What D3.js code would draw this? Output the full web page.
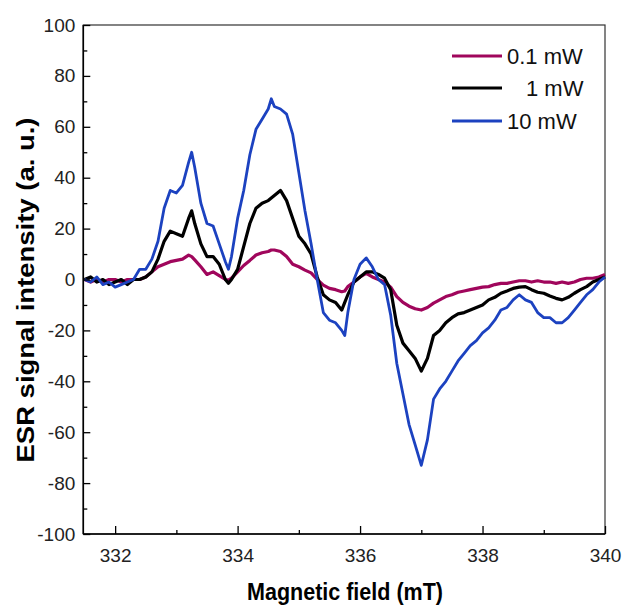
<!DOCTYPE html>
<html>
<head>
<meta charset="utf-8">
<script src="https://cdn.jsdelivr.net/npm/d3@7"></script>
<style>
  body { margin: 0; background: #fff; }
  svg { display: block; font-family: "Liberation Sans", Arial, sans-serif; }
  .axis path { display: none; }
  .axis line { stroke: #000; stroke-width: 1.3; }
  .axis text { font-size: 19px; fill: #222; font-family: "Liberation Sans", Arial, sans-serif; }
</style>
</head>
<body>
<svg id="chart" width="622" height="610"></svg>
<script>
// magnetic field (mT)
const field = [
  331.5, 331.6, 331.7, 331.8, 331.9,
  332.0, 332.1, 332.2, 332.3, 332.4, 332.5, 332.6, 332.7, 332.8, 332.9,
  333.0, 333.1, 333.2, 333.25, 333.3, 333.4, 333.5, 333.6, 333.7, 333.8, 333.85, 333.9,
  334.0, 334.1, 334.2, 334.3, 334.4, 334.5, 334.55, 334.6, 334.7, 334.8, 334.9,
  335.0, 335.1, 335.2, 335.3, 335.4, 335.5, 335.6, 335.7, 335.75, 335.8, 335.9,
  336.0, 336.1, 336.2, 336.3, 336.4, 336.5, 336.6, 336.7, 336.8, 336.9,
  337.0, 337.1, 337.2, 337.3, 337.4, 337.5, 337.6, 337.7, 337.8, 337.9,
  338.0, 338.1, 338.2, 338.3, 338.4, 338.5, 338.6, 338.7, 338.8, 338.9,
  339.0, 339.1, 339.2, 339.3, 339.4, 339.5, 339.6, 339.7, 339.8, 339.9,
  340.0
];

// ESR signal intensity (a. u.)
const mw01 = [
  0, -1, 0, -1, 0,
  0, -1, 0, 0, 0, 1, 3, 5, 6, 7,
  7.5, 8, 9.6, 9, 7.7, 5, 2, 3, 1.5, 0, -0.2, 0.5,
  3, 5.5, 7.5, 9.6, 10.5, 11, 11.6, 11.6, 11, 9, 6,
  5, 3.7, 2.6, 0, -2.2, -3.5, -4, -4.8, -4.5, -2.8, -1,
  1, 2.4, 1, 0, -1, -3, -6.7, -9, -10.5, -11.5,
  -12, -11, -9.3, -8, -6.7, -6, -5, -4.5, -4, -3.5,
  -3, -2.8, -2, -1.5, -1.5, -1, -0.5, -0.5, -1, -0.5,
  -1, -1, -1.5, -1, -1.5, -1, 0, 0.5, 0.5, 1,
  2
];
const mw1 = [
  0, 1, -1, 0, -2,
  -1, 0, -2, 0, 0, 1, 3, 8, 15, 19,
  18, 17, 24, 27, 22, 14, 9, 9, 6, 0, -1.5, 0,
  4, 13, 22, 28, 30, 31, 32, 33, 35, 31, 24,
  17, 14, 10, 1, -6, -8, -9, -12, -9, -6, -1,
  1, 3, 3, 2, 0.5, -4, -18, -25, -28, -31,
  -36, -31, -22, -20, -17, -15, -13.5, -13, -12, -11,
  -10, -8, -7, -5.4, -4.5, -3.5, -3, -2.8, -4, -5,
  -5.4, -6.5, -7.4, -8, -7, -5.4, -4, -2.8, -1, 0,
  1
];
const mw10 = [
  0, -1, 1, -2, -1,
  -3, -2, -1, 0, 4, 4, 8, 15, 28, 35,
  34, 37, 46, 50, 44, 30, 22, 21, 14, 7, 4, 9,
  24, 35, 49, 59, 63, 67, 71, 68, 67, 65, 57,
  42, 27, 14, 0, -13, -16, -17, -20, -22, -13, 0,
  6, 8.5, 5, 0, -2, -14, -33, -45, -57, -65,
  -73, -63, -47, -43, -40, -36, -32, -29, -26, -24,
  -21, -19, -16, -12, -11, -8, -6, -8, -9, -13,
  -15, -15, -17, -17, -15, -12, -9, -6, -4, -1,
  1
];

const seriesNames = ['0.1 mW', '1 mW', '10 mW'];
const seriesColors = ['#a0065c', '#000000', '#1c42c0'];
const xMajor = [332, 334, 336, 338, 340];
const xMinor = [333, 335, 337, 339];
const yMajor = [-100, -80, -60, -40, -20, 0, 20, 40, 60, 80, 100];
const yMinor = [-90, -70, -50, -30, -10, 10, 30, 50, 70, 90];

const svg = d3.select('#chart');
const plotLeft = 83.3, plotRight = 605, plotTop = 25, plotBottom = 534;

const x = d3.scaleLinear().domain([331.48, 340]).range([plotLeft, plotRight]);
const y = d3.scaleLinear().domain([-100, 100]).range([plotBottom, plotTop]);

svg.append('rect').attr('width', 622).attr('height', 610).attr('fill', '#fff');

// frame
svg.append('rect')
  .attr('x', plotLeft).attr('y', plotTop)
  .attr('width', plotRight - plotLeft).attr('height', plotBottom - plotTop)
  .attr('fill', 'none').attr('stroke', '#333').attr('stroke-width', 1.2);

// curves
const line = d3.line().x((d, i) => x(field[i])).y(d => y(d));
const series = [mw01, mw1, mw10];
series.forEach((vals, k) => {
  svg.append('path')
    .datum(vals)
    .attr('d', line)
    .attr('fill', 'none')
    .attr('stroke', seriesColors[k])
    .attr('stroke-width', k === 2 ? 2.8 : 3.2)
    .attr('stroke-linejoin', 'round');
});

// plain hyphen minus like the original
const fmt = d => String(d);

// axes (ticks point inward)
svg.append('g').attr('class', 'axis')
  .attr('transform', `translate(0,${plotBottom})`)
  .call(d3.axisBottom(x).tickValues(xMajor).tickSize(-8).tickPadding(15).tickFormat(fmt));
svg.append('g').attr('class', 'axis')
  .attr('transform', `translate(0,${plotBottom})`)
  .call(d3.axisBottom(x).tickValues(xMinor).tickSize(-4).tickFormat(''));
svg.append('g').attr('class', 'axis')
  .attr('transform', `translate(${plotLeft},0)`)
  .call(d3.axisLeft(y).tickValues(yMajor).tickSize(-7).tickPadding(8).tickFormat(fmt));
svg.append('g').attr('class', 'axis')
  .attr('transform', `translate(${plotLeft},0)`)
  .call(d3.axisLeft(y).tickValues(yMinor).tickSize(-4).tickFormat(''));

// left & bottom spines a bit heavier
svg.append('line').attr('x1', plotLeft).attr('x2', plotLeft).attr('y1', plotTop).attr('y2', plotBottom)
  .attr('stroke', '#000').attr('stroke-width', 1.6);
svg.append('line').attr('x1', plotLeft).attr('x2', plotRight).attr('y1', plotBottom).attr('y2', plotBottom)
  .attr('stroke', '#000').attr('stroke-width', 1.6);

// axis titles
svg.append('text')
  .attr('x', 345).attr('y', 600)
  .attr('text-anchor', 'middle')
  .attr('font-size', 23).attr('font-weight', 'bold')
  .attr('textLength', 196).attr('lengthAdjust', 'spacingAndGlyphs')
  .text('Magnetic field (mT)');
svg.append('text')
  .attr('transform', 'translate(34,290) rotate(-90)')
  .attr('text-anchor', 'middle')
  .attr('font-size', 24).attr('font-weight', 'bold')
  .attr('textLength', 345).attr('lengthAdjust', 'spacingAndGlyphs')
  .text('ESR signal intensity (a. u.)');

// legend
const legendY = [56, 88, 121];
const legendTextX = [507, 526, 507];
seriesNames.forEach((name, k) => {
  svg.append('line')
    .attr('x1', 452).attr('x2', 502)
    .attr('y1', legendY[k]).attr('y2', legendY[k])
    .attr('stroke', seriesColors[k]).attr('stroke-width', 3);
  svg.append('text')
    .attr('x', legendTextX[k]).attr('y', legendY[k] + 8)
    .attr('font-size', 22).attr('fill', '#111')
    .text(name);
});
</script>
</body>
</html>
